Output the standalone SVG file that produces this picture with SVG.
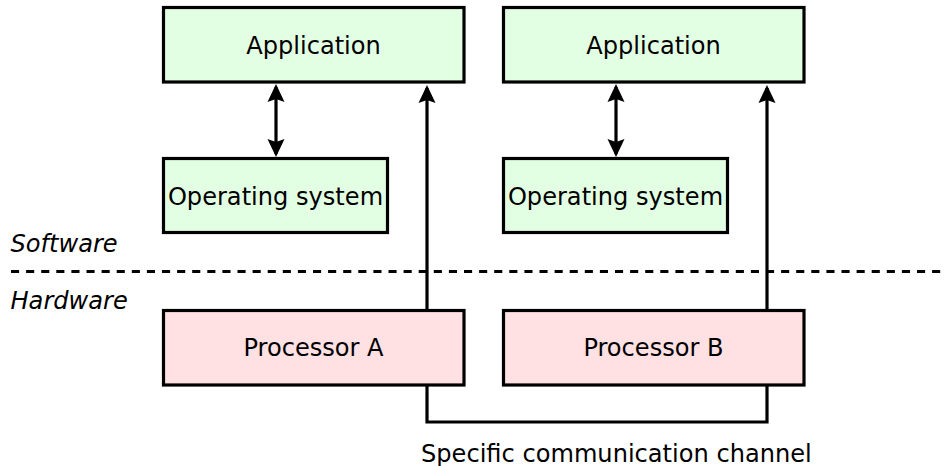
<svg xmlns="http://www.w3.org/2000/svg" width="948" height="466" viewBox="0 0 948 466">
  <style>
    .box { stroke: #000; stroke-width: 3.2; }
    .sw { fill: #e3ffe3; }
    .hw { fill: #ffe1e4; }
    .lbl { font-family: "DejaVu Sans", sans-serif; font-size: 24.1px; fill: #000; }
    .c { text-anchor: middle; }
    .it { font-style: italic; }
    .wire { fill: none; stroke: #000; stroke-width: 3.2; }
  </style>
  <defs>
    <marker id="arr" markerUnits="userSpaceOnUse" viewBox="-16 -10 20 20" refX="0" refY="0" markerWidth="20" markerHeight="20" orient="auto-start-reverse">
      <path d="M3,0 L-15,-8.5 L-12,0 L-15,8.5 Z" fill="#000"/>
    </marker>
  </defs>
  <rect width="948" height="466" fill="#fff"/>

  <g id="app-a">
    <rect class="box sw" x="163.5" y="7.5" width="300.5" height="74.5"/>
    <text class="lbl c" x="313.5" y="53.5">Application</text>
  </g>
  <g id="os-a">
    <rect class="box sw" x="163.5" y="158.5" width="224" height="74"/>
    <text class="lbl c" x="275.5" y="204.5">Operating system</text>
  </g>
  <g id="proc-a">
    <rect class="box hw" x="163.5" y="310.5" width="300.5" height="74.5"/>
    <text class="lbl c" x="313.5" y="356">Processor A</text>
  </g>
  <g id="app-b">
    <rect class="box sw" x="503.5" y="7.5" width="300.5" height="74.5"/>
    <text class="lbl c" x="653.5" y="53.5">Application</text>
  </g>
  <g id="os-b">
    <rect class="box sw" x="503.5" y="158.5" width="224" height="74"/>
    <text class="lbl c" x="615.5" y="204.5">Operating system</text>
  </g>
  <g id="proc-b">
    <rect class="box hw" x="503.5" y="310.5" width="300.5" height="74.5"/>
    <text class="lbl c" x="653.5" y="356">Processor B</text>
  </g>

  <g id="layers">
    <line x1="11" y1="271.5" x2="942" y2="271.5" stroke="#000" stroke-width="3.2" stroke-dasharray="8.1 7"/>
    <text class="lbl it" x="10.5" y="252">Software</text>
    <text class="lbl it" x="10.5" y="309">Hardware</text>
  </g>

  <g id="connectors">
    <line class="wire" x1="276" y1="87" x2="276" y2="154" marker-start="url(#arr)" marker-end="url(#arr)"/>
    <line class="wire" x1="616" y1="87" x2="616" y2="154" marker-start="url(#arr)" marker-end="url(#arr)"/>
    <line class="wire" x1="427" y1="310" x2="427" y2="88" marker-end="url(#arr)"/>
    <line class="wire" x1="767" y1="310" x2="767" y2="88" marker-end="url(#arr)"/>
    <polyline class="wire" points="427,385 427,422 767,422 767,385"/>
    <text class="lbl" x="421" y="461.5">Specific communication channel</text>
  </g>
</svg>
